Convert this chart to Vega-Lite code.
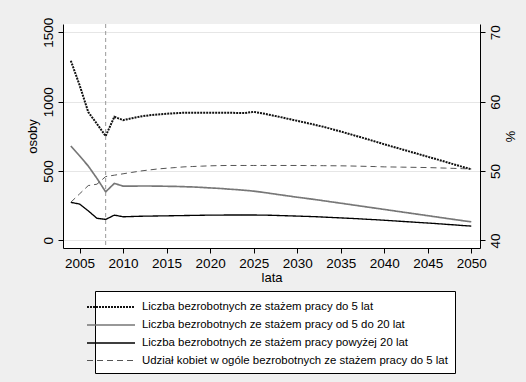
{
  "$schema": "https://vega.github.io/schema/vega-lite/v6.json",
  "width": 417,
  "height": 224,
  "padding": {"left": 26, "top": 17, "right": 16, "bottom": 100},
  "background": "#efefef",
  "config": {
    "view": {"stroke": null, "fill": "white"},
    "font": "Liberation Sans",
    "axis": {
      "labelFont": "Liberation Sans", "titleFont": "Liberation Sans",
      "labelFontSize": 13.5, "titleFontSize": 13, "titleFontWeight": "normal",
      "labelColor": "black", "titleColor": "black",
      "domainColor": "black", "tickColor": "black", "tickSize": 5,
      "gridColor": "#e6e6e6", "labelPadding": 3
    },
    "legend": {
      "labelFont": "Liberation Sans", "labelFontSize": 11.4, "labelColor": "black", "labelLimit": 0,
      "strokeColor": "black", "fillColor": "white", "padding": 7,
      "orient": "none", "legendX": 32, "legendY": 267, "direction": "vertical",
      "symbolType": "M-3,0H3", "symbolSize": 256, "labelOffset": 22, "rowPadding": 3
    }
  },
  "datasets": {
    "counts": [
      {"year": 2004, "a": 1295, "b": 680, "c": 274},
      {"year": 2005, "a": 1120, "b": 610, "c": 262},
      {"year": 2006, "a": 925, "b": 536, "c": 213},
      {"year": 2007, "a": 840, "b": 447, "c": 159},
      {"year": 2008, "a": 752, "b": 350, "c": 151},
      {"year": 2009, "a": 891, "b": 411, "c": 182},
      {"year": 2010, "a": 867, "b": 391, "c": 170},
      {"year": 2011, "a": 880, "b": 391, "c": 172},
      {"year": 2012, "a": 893, "b": 392, "c": 174},
      {"year": 2013, "a": 902, "b": 392, "c": 175},
      {"year": 2014, "a": 908, "b": 391, "c": 176},
      {"year": 2015, "a": 913, "b": 390, "c": 177},
      {"year": 2016, "a": 917, "b": 389, "c": 178},
      {"year": 2017, "a": 920, "b": 387, "c": 179},
      {"year": 2018, "a": 921, "b": 385, "c": 180},
      {"year": 2019, "a": 921, "b": 382, "c": 181},
      {"year": 2020, "a": 921, "b": 378, "c": 182},
      {"year": 2021, "a": 920, "b": 375, "c": 182},
      {"year": 2022, "a": 920, "b": 370, "c": 183},
      {"year": 2023, "a": 919, "b": 366, "c": 183},
      {"year": 2024, "a": 918, "b": 361, "c": 183},
      {"year": 2025, "a": 927, "b": 355, "c": 183},
      {"year": 2026, "a": 916, "b": 347, "c": 182},
      {"year": 2027, "a": 903, "b": 338, "c": 181},
      {"year": 2028, "a": 890, "b": 329, "c": 179},
      {"year": 2029, "a": 876, "b": 320, "c": 177},
      {"year": 2030, "a": 862, "b": 311, "c": 175},
      {"year": 2031, "a": 848, "b": 303, "c": 173},
      {"year": 2032, "a": 834, "b": 295, "c": 171},
      {"year": 2033, "a": 819, "b": 286, "c": 168},
      {"year": 2034, "a": 802, "b": 277, "c": 165},
      {"year": 2035, "a": 785, "b": 268, "c": 162},
      {"year": 2036, "a": 767, "b": 259, "c": 159},
      {"year": 2037, "a": 749, "b": 250, "c": 156},
      {"year": 2038, "a": 731, "b": 241, "c": 152},
      {"year": 2039, "a": 712, "b": 232, "c": 149},
      {"year": 2040, "a": 693, "b": 223, "c": 145},
      {"year": 2041, "a": 675, "b": 214, "c": 141},
      {"year": 2042, "a": 657, "b": 205, "c": 137},
      {"year": 2043, "a": 639, "b": 196, "c": 133},
      {"year": 2044, "a": 621, "b": 187, "c": 129},
      {"year": 2045, "a": 603, "b": 178, "c": 125},
      {"year": 2046, "a": 585, "b": 169, "c": 121},
      {"year": 2047, "a": 567, "b": 160, "c": 116},
      {"year": 2048, "a": 548, "b": 151, "c": 112},
      {"year": 2049, "a": 530, "b": 142, "c": 107},
      {"year": 2050, "a": 512, "b": 134, "c": 103}
    ],
    "pct": [
      {"year": 2004, "d": 45.5}, {"year": 2005, "d": 46.7}, {"year": 2006, "d": 47.9},
      {"year": 2007, "d": 48.1}, {"year": 2008, "d": 49.2}, {"year": 2009, "d": 49.4},
      {"year": 2010, "d": 49.6}, {"year": 2011, "d": 49.8}, {"year": 2012, "d": 50.0},
      {"year": 2013, "d": 50.15}, {"year": 2014, "d": 50.3}, {"year": 2015, "d": 50.4},
      {"year": 2016, "d": 50.5}, {"year": 2017, "d": 50.6}, {"year": 2018, "d": 50.65},
      {"year": 2019, "d": 50.7}, {"year": 2020, "d": 50.75}, {"year": 2021, "d": 50.78},
      {"year": 2022, "d": 50.8}, {"year": 2023, "d": 50.8}, {"year": 2024, "d": 50.8},
      {"year": 2025, "d": 50.8}, {"year": 2026, "d": 50.8}, {"year": 2027, "d": 50.8},
      {"year": 2028, "d": 50.8}, {"year": 2029, "d": 50.8}, {"year": 2030, "d": 50.8},
      {"year": 2031, "d": 50.79}, {"year": 2032, "d": 50.78}, {"year": 2033, "d": 50.77},
      {"year": 2034, "d": 50.76}, {"year": 2035, "d": 50.75}, {"year": 2036, "d": 50.73},
      {"year": 2037, "d": 50.7}, {"year": 2038, "d": 50.67}, {"year": 2039, "d": 50.64},
      {"year": 2040, "d": 50.6}, {"year": 2041, "d": 50.58}, {"year": 2042, "d": 50.56},
      {"year": 2043, "d": 50.54}, {"year": 2044, "d": 50.52}, {"year": 2045, "d": 50.5},
      {"year": 2046, "d": 50.46}, {"year": 2047, "d": 50.42}, {"year": 2048, "d": 50.38},
      {"year": 2049, "d": 50.34}, {"year": 2050, "d": 50.3}
    ],
    "marker": [{"year": 2008}]
  },
  "layer": [
    {
      "data": {"name": "counts"},
      "transform": [{"fold": ["a", "b", "c"], "as": ["s", "v"]}],
      "mark": {"type": "line", "strokeCap": "butt"},
      "encoding": {
        "x": {
          "field": "year", "type": "quantitative",
          "scale": {"domain": [2003.1, 2051], "nice": false, "zero": false},
          "axis": {"title": "lata", "values": [2005, 2010, 2015, 2020, 2025, 2030, 2035, 2040, 2045, 2050], "format": "d", "grid": false, "titlePadding": 2}
        },
        "y": {
          "field": "v", "type": "quantitative",
          "scale": {"domain": [-55, 1560], "nice": false, "zero": false},
          "axis": {"title": "osoby", "values": [0, 500, 1000, 1500], "format": "d", "labelAngle": -90, "grid": true, "titlePadding": 2}
        },
        "color": {
          "field": "s", "type": "nominal",
          "scale": {"domain": ["a", "b", "c", "d"], "range": ["#111111", "#777777", "#000000", "#555555"]},
          "legend": {"title": null, "labelExpr": "datum.label == 'a' ? 'Liczba bezrobotnych ze stażem pracy do 5 lat' : datum.label == 'b' ? 'Liczba bezrobotnych ze stażem pracy od 5 do 20 lat' : datum.label == 'c' ? 'Liczba bezrobotnych ze stażem pracy powyżej 20 lat' : 'Udział kobiet w ogóle bezrobotnych ze stażem pracy do 5 lat'"}
        },
        "strokeDash": {
          "field": "s", "type": "nominal",
          "scale": {"domain": ["a", "b", "c", "d"], "range": [[2, 1], [1, 0], [1, 0], [6, 4]]},
          "legend": {"title": null, "labelExpr": "datum.label == 'a' ? 'Liczba bezrobotnych ze stażem pracy do 5 lat' : datum.label == 'b' ? 'Liczba bezrobotnych ze stażem pracy od 5 do 20 lat' : datum.label == 'c' ? 'Liczba bezrobotnych ze stażem pracy powyżej 20 lat' : 'Udział kobiet w ogóle bezrobotnych ze stażem pracy do 5 lat'"}
        },
        "strokeWidth": {
          "field": "s", "type": "nominal",
          "scale": {"domain": ["a", "b", "c", "d"], "range": [2, 1, 2.5, 1]},
          "legend": {"title": null, "labelExpr": "datum.label == 'a' ? 'Liczba bezrobotnych ze stażem pracy do 5 lat' : datum.label == 'b' ? 'Liczba bezrobotnych ze stażem pracy od 5 do 20 lat' : datum.label == 'c' ? 'Liczba bezrobotnych ze stażem pracy powyżej 20 lat' : 'Udział kobiet w ogóle bezrobotnych ze stażem pracy do 5 lat'"}
        }
      }
    },
    {
      "data": {"name": "pct"},
      "transform": [{"fold": ["d"], "as": ["s", "v"]}],
      "mark": {"type": "line", "strokeCap": "butt"},
      "encoding": {
        "x": {"field": "year", "type": "quantitative"},
        "y": {
          "field": "v", "type": "quantitative",
          "scale": {"domain": [38.9, 71.2], "nice": false, "zero": false},
          "axis": {"title": "%", "orient": "right", "values": [40, 50, 60, 70], "labelAngle": -90, "grid": false, "titlePadding": 1}
        },
        "color": {"field": "s", "type": "nominal"},
        "strokeDash": {"field": "s", "type": "nominal"},
        "strokeWidth": {"field": "s", "type": "nominal"}
      }
    },
    {
      "data": {"name": "marker"},
      "mark": {"type": "rule", "color": "#999999", "strokeDash": [4, 3], "strokeWidth": 1},
      "encoding": {"x": {"field": "year", "type": "quantitative"}}
    }
  ],
  "resolve": {"scale": {"y": "independent"}}
}
